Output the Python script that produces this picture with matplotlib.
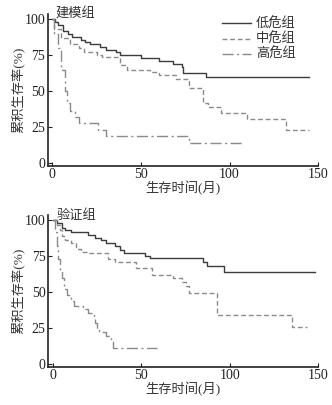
import matplotlib.pyplot as plt

plt.rcParams['font.family'] = ['Liberation Serif', 'Noto Sans CJK SC']

# 建模组 (training set)
train_low_t = [0, 1.5, 3.4, 6, 9, 11, 16, 18.5, 21, 27, 30, 36, 38, 50, 60, 68, 73, 74, 87, 145]
train_low_s = [100, 98, 96, 92, 90, 88, 86, 84, 83, 81, 79, 77, 75, 73, 71, 69, 67, 62.5, 59.5, 59.5]
train_mid_t = [0, 1, 5, 10, 15, 18, 25, 28, 38, 42, 55, 60, 70, 77, 85, 88, 95, 110, 132, 145]
train_mid_s = [100, 93, 87, 83, 80, 77, 75, 74, 68, 65, 63, 61, 58.5, 52, 42, 39, 35, 30.5, 22.5, 22.5]
train_high_t = [0, 1, 3, 5, 7, 8, 10, 13, 15, 26, 30, 77, 108]
train_high_s = [100, 90, 80, 65, 50, 42, 36, 32, 28, 23, 18.5, 14, 14]

# 验证组 (validation set)
valid_low_t = [0, 2, 5, 7, 10, 20, 24, 27, 30, 35, 38, 40, 52, 55, 85, 87, 97, 148]
valid_low_s = [100, 98, 95, 93, 92, 90, 88, 86, 84, 82, 79, 77, 75, 74, 71, 68, 64, 64]
valid_mid_t = [0, 2, 4, 5, 7, 10, 13, 16, 20, 31, 35, 47, 56, 68, 73, 75, 77, 93, 135, 144]
valid_mid_s = [100, 97, 93, 89, 86, 84, 80, 78, 77, 73, 71, 67, 62, 60, 57, 54, 49, 34, 25.5, 25.5]
valid_high_t = [0, 1, 2, 3, 4, 5, 6, 8, 10, 12, 17, 20, 23, 24, 25, 26, 30, 33, 34, 59]
valid_high_s = [100, 92, 82, 73, 65, 60, 52, 48, 44, 40, 38, 35, 33, 28, 25, 22, 19, 16, 10.5, 10.5]

labels = ['低危组', '中危组', '高危组']
styles = [dict(color='#3c3c3c', ls='-'),
          dict(color='#8a8a8a', ls=(0, (3.5, 2))),
          dict(color='#8a8a8a', ls=(0, (8, 2.5, 1.5, 2.5)))]


def panel(ax, curves, title, legend=False):
    for (t, s), lab, st in zip(curves, labels, styles):
        ax.step(t, s, where='post', lw=1.0, label=lab, **st)
    ax.set_xlim(-2.6, 150)
    ax.set_ylim(-2.1, 103.7)
    ax.set_xticks([0, 50, 100, 150])
    ax.set_yticks([0, 25, 50, 75, 100])
    ax.spines['top'].set_visible(False)
    ax.spines['right'].set_visible(False)
    for sp in ('left', 'bottom'):
        ax.spines[sp].set_linewidth(1.2)
        ax.spines[sp].set_color('#222222')
    ax.tick_params(direction='in', length=3, labelsize=10, colors='#222222', pad=2)
    ax.set_xlabel('生存时间(月)', fontsize=9.5, labelpad=0, color='#333333')
    ax.set_ylabel('累积生存率(%)', fontsize=9.5, labelpad=0, color='#333333')
    ax.text(0.03, 1.0, title, transform=ax.transAxes, fontsize=9.5, va='center', ha='left',
            color='#333333')
    if legend:
        ax.legend(loc='upper left', bbox_to_anchor=(0.645, 0.975), frameon=False, fontsize=9.5,
                  handlelength=2.2, handletextpad=0.35, labelspacing=0.15, borderaxespad=0,
                  borderpad=0, labelcolor='#333333')


fig = plt.figure(figsize=(3.32, 4.05), dpi=100)
ax1 = fig.add_axes([0.144, 0.591, 0.814, 0.374])
ax2 = fig.add_axes([0.146, 0.095, 0.812, 0.374])

panel(ax1, [(train_low_t, train_low_s), (train_mid_t, train_mid_s), (train_high_t, train_high_s)],
      '建模组', legend=True)
panel(ax2, [(valid_low_t, valid_low_s), (valid_mid_t, valid_mid_s), (valid_high_t, valid_high_s)],
      '验证组')

fig.savefig('out.png', dpi=100, facecolor='white')
